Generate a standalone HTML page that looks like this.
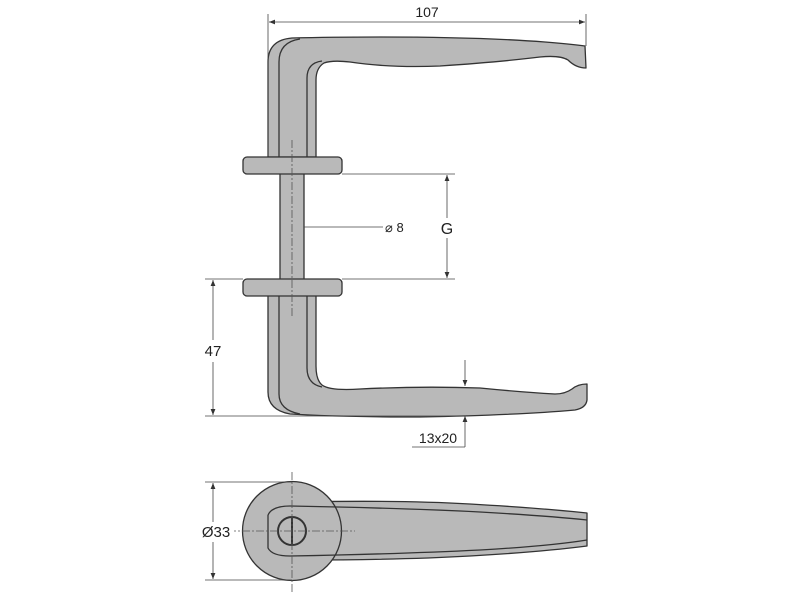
<!DOCTYPE html>
<html><head><meta charset="utf-8"><style>
html,body{margin:0;padding:0;background:#fff;}
svg{display:block;}
text{font-family:"Liberation Sans",Arial,sans-serif;fill:#222;}
</style></head><body>
<svg width="800" height="600" viewBox="0 0 800 600" xmlns="http://www.w3.org/2000/svg">
<defs>
<marker id="a" viewBox="0 0 10 10" refX="10" refY="5" markerWidth="8" markerHeight="6" orient="auto-start-reverse" markerUnits="userSpaceOnUse"><path d="M0,1 L10,5 L0,9 z" fill="#333"/></marker>
</defs>
<g stroke="#333" stroke-width="1.3" fill="#b9b9b9" stroke-linejoin="round">
<!-- top handle -->
<path d="M268,157 L268,62 Q268,40 292,38 Q330,37 380,37 Q480,37 545,42 Q570,44 585,46 L586,68 Q576,68 568,60 Q560,55 540,57 Q500,62 440,66 Q390,68 350,62 Q332,60 324,63 Q316,68 316,80 L316,157 Z"/>
<path d="M279,157 L279,62 Q279,42 300,39" fill="none"/>
<path d="M307,157 L307,78 Q307,63 322,61" fill="none"/>
<!-- shaft -->
<rect x="280" y="172" width="24" height="109"/>
<!-- lower handle -->
<path d="M268,294 L268,392 Q268,410 290,414 Q340,417 420,417 Q520,415 575,410 Q586,408 587,400 L587,384 Q578,384 572,389 Q565,394 555,394 Q520,392 480,388 Q420,386 360,389 Q330,391 322,385 Q316,380 316,366 L316,294 Z"/>
<path d="M279,294 L279,394 Q279,410 300,414" fill="none"/>
<path d="M307,294 L307,368 Q307,384 322,387" fill="none"/>
<!-- rosettes -->
<rect x="243" y="157" width="99" height="17" rx="4"/>
<rect x="243" y="279" width="99" height="17" rx="4"/>
<!-- bottom view -->
<path d="M300,502 Q400,500 470,504 Q540,508 587,513 L587,546 Q540,552 470,556 Q400,560 300,560 Z"/>
<circle cx="292" cy="531" r="49.5"/>
<path d="M268,515 Q272,506 290,506 Q400,508 480,512 Q550,516 587,520" fill="none"/>
<path d="M268,515 L268,548 Q272,556 290,556 Q400,554 480,550 Q550,546 587,540" fill="none"/>
<circle cx="292" cy="531" r="14" fill="#b9b9b9" stroke-width="2"/>
<line x1="292" y1="517" x2="292" y2="545" stroke-width="2"/>
</g>
<!-- center lines -->
<g stroke="#555" stroke-width="0.8" stroke-dasharray="8,2,2,2" fill="none">
<line x1="292" y1="140" x2="292" y2="318"/>
<line x1="292" y1="472" x2="292" y2="592"/>
<line x1="228" y1="531" x2="355" y2="531"/>
</g>
<!-- dimension lines -->
<g stroke="#444" stroke-width="0.8" fill="none">
<line x1="268" y1="14" x2="268" y2="156"/>
<line x1="586" y1="14" x2="586" y2="46"/>
<line x1="269" y1="22" x2="585" y2="22" marker-start="url(#a)" marker-end="url(#a)"/>
<line x1="342" y1="174" x2="455" y2="174"/>
<line x1="342" y1="279" x2="455" y2="279"/>
<line x1="447" y1="175" x2="447" y2="278" marker-start="url(#a)" marker-end="url(#a)"/>
<line x1="304" y1="227" x2="383" y2="227"/>
<line x1="205" y1="279" x2="243" y2="279"/>
<line x1="205" y1="416" x2="466" y2="416"/>
<line x1="213" y1="280" x2="213" y2="415" marker-start="url(#a)" marker-end="url(#a)"/>
<line x1="465" y1="360" x2="465" y2="386" marker-end="url(#a)"/>
<line x1="465" y1="447" x2="465" y2="416" marker-end="url(#a)"/>
<line x1="412" y1="447" x2="465" y2="447"/>
<line x1="205" y1="482" x2="292" y2="482"/>
<line x1="205" y1="580" x2="292" y2="580"/>
<line x1="213" y1="483" x2="213" y2="579" marker-start="url(#a)" marker-end="url(#a)"/>
</g>
<rect x="440" y="218" width="16" height="20" fill="#fff"/>
<rect x="198" y="340" width="30" height="22" fill="#fff"/>
<rect x="196" y="522" width="38" height="20" fill="#fff"/>
<text x="427" y="17" font-size="14" text-anchor="middle">107</text>
<text x="447" y="234" font-size="16" text-anchor="middle">G</text>
<text x="385" y="232" font-size="13">⌀ 8</text>
<text x="213" y="356" font-size="15" text-anchor="middle">47</text>
<text x="438" y="443" font-size="14" text-anchor="middle">13x20</text>
<text x="216" y="537" font-size="15" text-anchor="middle">Ø33</text>
</svg>
</body></html>
